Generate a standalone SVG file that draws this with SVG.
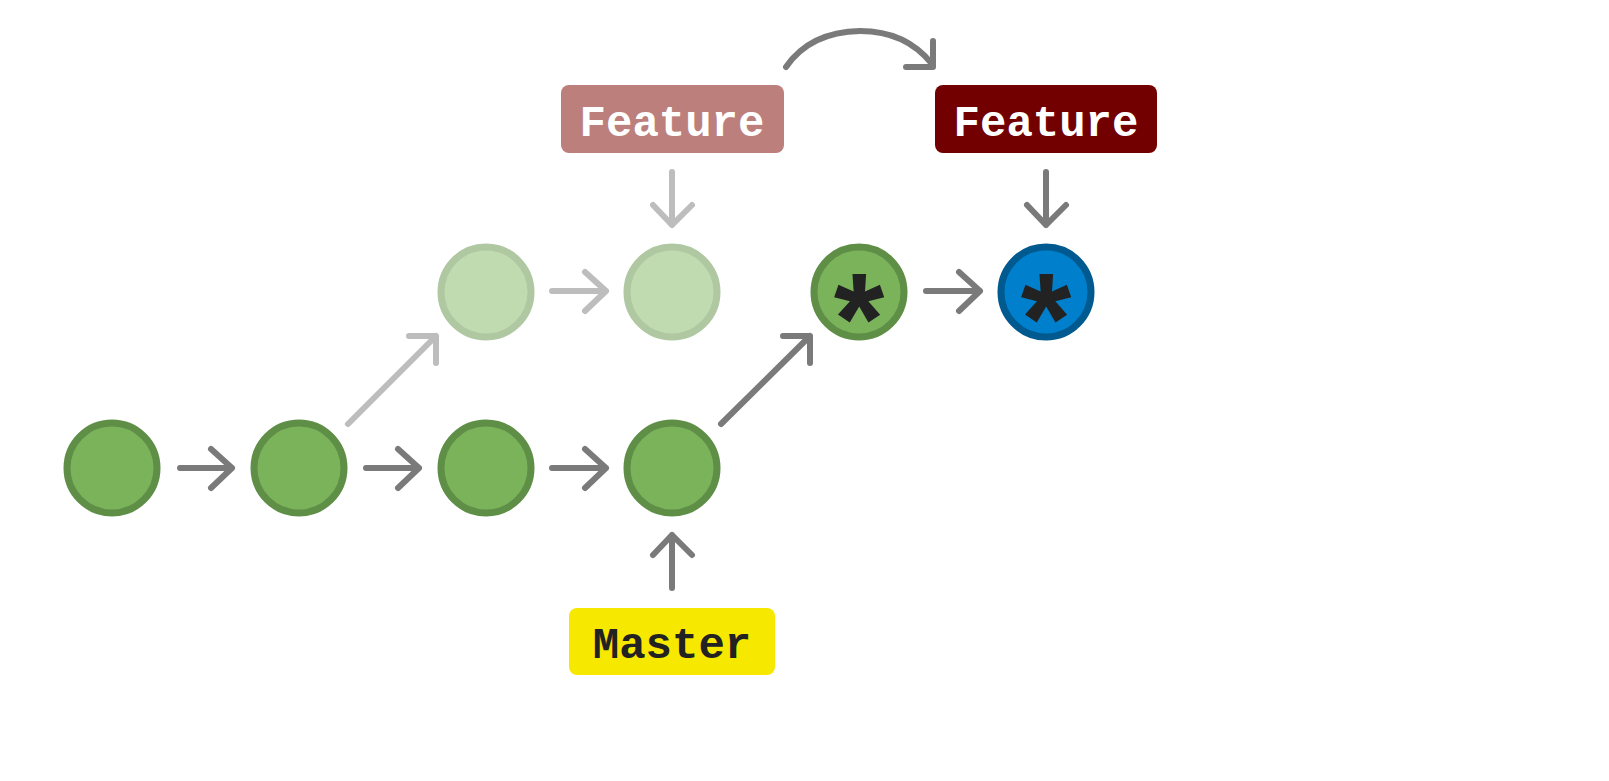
<svg xmlns="http://www.w3.org/2000/svg" width="1609" height="781" viewBox="0 0 1609 781">
<style>
.c{fill:#7bb35b;stroke:#5f8f47;stroke-width:7}
.cl{fill:#bfdbaf;stroke:#afc8a2;stroke-width:7}
.cb{fill:#0080cc;stroke:#005a90;stroke-width:7}
.a{fill:none;stroke:#7a7a7a;stroke-width:6;stroke-linecap:round;stroke-linejoin:round}
.al{fill:none;stroke:#bdbdbd;stroke-width:6;stroke-linecap:round;stroke-linejoin:round}
.t{font-family:"Liberation Mono","DejaVu Sans Mono",monospace;font-weight:bold;font-size:44px;text-anchor:middle}
.s{font-family:"Liberation Sans",Arial,sans-serif;font-weight:bold;font-size:130px;text-anchor:middle;fill:#222}
</style>
<rect width="1609" height="781" fill="#fff"/>
<g id="connectors">
<path class="a" d="M180 468H232M211 449L232 468L211 488"/>
<path class="a" d="M366 468H419M398 449L419 468L398 488"/>
<path class="a" d="M552 468H606M585 449L606 468L585 488"/>
<path class="al" d="M552 291H606M585 272L606 291L585 311"/>
<path class="a" d="M926 291H980M959 272L980 291L959 311"/>
<path class="al" d="M348 424L436 336M409 336H436V363"/>
<path class="a" d="M721 424L810 336M783 336H810V363"/>
<path class="al" d="M672 172V225M653 205L672 225L692 205"/>
<path class="a" d="M1046 172V225M1027 205L1046 225L1066 205"/>
<path class="a" d="M672 588V535M653 555L672 535L692 555"/>
<path class="a" d="M786 67Q810 32 860 31Q906 31 932 64M906 67H933V41"/>
</g>
<g id="n1"><circle class="c" cx="112" cy="468" r="45"/></g>
<g id="n2"><circle class="c" cx="299" cy="468" r="45"/></g>
<g id="n3"><circle class="c" cx="486" cy="468" r="45"/></g>
<g id="n4"><circle class="c" cx="672" cy="468" r="45"/></g>
<g id="n5"><circle class="cl" cx="486" cy="292" r="45"/></g>
<g id="n6"><circle class="cl" cx="672" cy="292" r="45"/></g>
<g id="n7"><circle class="c" cx="859" cy="292" r="45"/><text class="s" x="859" y="364">*</text></g>
<g id="n8"><circle class="cb" cx="1046" cy="292" r="45"/><text class="s" x="1046" y="364">*</text></g>
<g id="featureOld"><rect x="561" y="85" width="223" height="68" rx="8" fill="#bc7f7c"/><text class="t" x="672" y="136" fill="#fff">Feature</text></g>
<g id="featureNew"><rect x="935" y="85" width="222" height="68" rx="8" fill="#720000"/><text class="t" x="1046" y="136" fill="#fff">Feature</text></g>
<g id="master"><rect x="569" y="608" width="206" height="67" rx="8" fill="#f7e800"/><text class="t" x="672" y="658" fill="#222">Master</text></g>
</svg>
